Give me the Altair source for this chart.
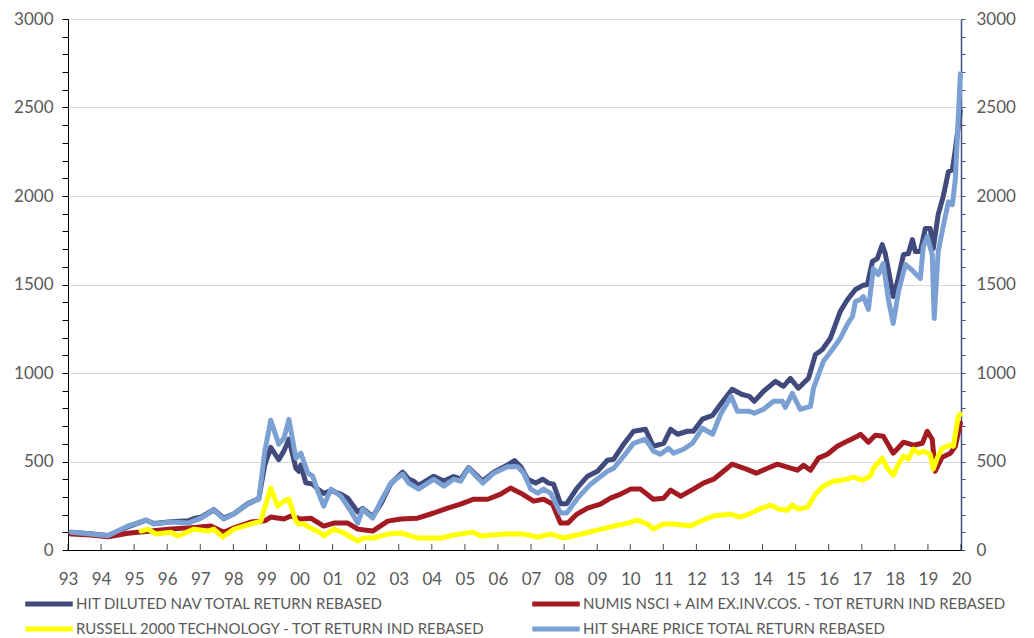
import altair as alt
import pandas as pd

NAV = "HIT DILUTED NAV TOTAL RETURN REBASED"
NUMIS = "NUMIS NSCI + AIM EX.INV.COS. - TOT RETURN IND REBASED"
RUSSELL = "RUSSELL 2000 TECHNOLOGY - TOT RETURN IND REBASED"
SP = "HIT SHARE PRICE TOTAL RETURN REBASED"

# legend order (column-major in a 2-column legend: NAV, RUSSELL | NUMIS, SP)
legend_names = [NAV, RUSSELL, NUMIS, SP]
legend_colors = ["#414A7C", "#FFFF00", "#A31A22", "#7BA0D3"]

nav_t = [1993.09, 1993.69, 1994.21, 1994.81, 1995.36, 1995.60, 1996.11, 1996.63, 1996.81, 1997.02,
         1997.41, 1997.71, 1998.02, 1998.44, 1998.77, 1998.95, 1999.13, 1999.37, 1999.53, 1999.68,
         1999.89, 1999.98, 2000.04, 2000.19, 2000.40, 2000.55, 2000.73, 2000.95, 2001.25, 2001.46,
         2001.76, 2001.91, 2002.21, 2002.46, 2002.76, 2003.12, 2003.30, 2003.45, 2003.60, 2004.06,
         2004.36, 2004.66, 2004.87, 2005.11, 2005.54, 2005.87, 2006.29, 2006.50, 2006.69, 2006.90,
         2007.14, 2007.35, 2007.53, 2007.68, 2007.89, 2008.08, 2008.39, 2008.71, 2009.01, 2009.31,
         2009.50, 2009.80, 2010.10, 2010.46, 2010.70, 2011.01, 2011.22, 2011.43, 2011.73, 2011.91,
         2012.18, 2012.49, 2012.73, 2013.08, 2013.36, 2013.60, 2013.75, 2014.03, 2014.39, 2014.63,
         2014.84, 2015.08, 2015.39, 2015.60, 2015.81, 2016.05, 2016.35, 2016.57, 2016.81, 2017.02,
         2017.17, 2017.32, 2017.47, 2017.62, 2017.71, 2017.86, 2017.95, 2018.08, 2018.26, 2018.41,
         2018.53, 2018.62, 2018.77, 2018.92, 2019.07, 2019.16, 2019.31, 2019.46, 2019.62, 2019.74,
         2019.83, 2019.98]
nav_v = [100, 92, 82, 130, 168, 150, 160, 165, 178, 185,
         228, 180, 205, 262, 290, 480, 580, 510, 560, 626,
         462, 445, 480, 380, 372, 345, 320, 335, 316, 293,
         215, 235, 190, 260, 375, 440, 400, 389, 365, 417,
         390, 415, 400, 465, 390, 440, 480, 505, 470, 400,
         378, 400, 378, 372, 262, 262, 350, 417, 445, 507,
         513, 598, 671, 682, 586, 603, 682, 654, 671, 671,
         739, 761, 823, 908, 880, 868, 840, 897, 953, 925,
         970, 914, 970, 1105, 1133, 1196, 1348, 1415, 1472, 1494,
         1500, 1630, 1646, 1725, 1675, 1528, 1432, 1517, 1669, 1675,
         1754, 1686, 1686, 1816, 1816, 1703, 1895, 1996, 2137, 2148,
         2267, 2480]

numis_t = [1993.09, 1993.69, 1994.21, 1994.81, 1995.36, 1996.11, 1996.63, 1997.32, 1997.71, 1998.02,
           1998.53, 1998.95, 1999.13, 1999.53, 1999.74, 2000.04, 2000.34, 2000.73, 2001.04, 2001.46,
           2001.76, 2002.21, 2002.67, 2003.06, 2003.57, 2004.06, 2004.48, 2004.87, 2005.27, 2005.69,
           2006.08, 2006.38, 2006.69, 2007.08, 2007.38, 2007.65, 2007.89, 2008.11, 2008.39, 2008.71,
           2009.10, 2009.40, 2009.71, 2010.01, 2010.31, 2010.70, 2011.01, 2011.22, 2011.52, 2011.91,
           2012.21, 2012.52, 2012.82, 2013.08, 2013.51, 2013.81, 2014.15, 2014.45, 2014.75, 2015.05,
           2015.24, 2015.45, 2015.69, 2015.96, 2016.26, 2016.56, 2016.87, 2016.96, 2017.20, 2017.41,
           2017.65, 2017.95, 2018.26, 2018.56, 2018.83, 2018.98, 2019.13, 2019.22, 2019.43, 2019.68,
           2019.83, 2019.98]
numis_v = [90, 85, 75, 95, 105, 118, 125, 135, 100, 125,
           158, 165, 186, 175, 192, 175, 180, 135, 152, 152,
           118, 107, 163, 175, 180, 209, 237, 259, 287, 287,
           316, 350, 321, 276, 287, 259, 152, 152, 203, 237,
           259, 293, 316, 344, 344, 287, 293, 338, 304, 344,
           378, 400, 445, 485, 457, 434, 462, 485, 468, 451,
           479, 451, 519, 541, 586, 615, 643, 654, 609, 648,
           643, 547, 609, 592, 603, 671, 626, 445, 524, 547,
           586, 716]

russell_t = [1995.21, 1995.42, 1995.66, 1996.11, 1996.32, 1996.81, 1997.23, 1997.41, 1997.68, 1998.02,
             1998.53, 1998.83, 1999.13, 1999.34, 1999.53, 1999.68, 1999.89, 1999.98, 2000.13, 2000.34,
             2000.64, 2000.73, 2001.04, 2001.34, 2001.76, 2001.94, 2002.24, 2002.67, 2003.06, 2003.57,
             2004.27, 2004.66, 2005.24, 2005.48, 2006.17, 2006.78, 2007.20, 2007.59, 2007.98, 2008.39,
             2008.89, 2009.50, 2009.92, 2010.22, 2010.52, 2010.70, 2011.01, 2011.31, 2011.82, 2012.12,
             2012.52, 2013.03, 2013.30, 2013.60, 2013.90, 2014.24, 2014.48, 2014.75, 2014.90, 2015.08,
             2015.36, 2015.60, 2015.84, 2016.14, 2016.44, 2016.75, 2017.02, 2017.26, 2017.35, 2017.62,
             2017.77, 2017.95, 2018.11, 2018.26, 2018.41, 2018.56, 2018.71, 2018.86, 2019.07, 2019.16,
             2019.28, 2019.43, 2019.68, 2019.77, 2019.92, 2019.98]
russell_v = [107, 118, 90, 100, 79, 118, 107, 118, 73, 118,
             147, 163, 350, 248, 276, 287, 163, 147, 147, 124,
             96, 79, 118, 96, 51, 68, 68, 90, 96, 68,
             68, 85, 101, 79, 90, 90, 73, 90, 68, 85,
             107, 135, 152, 169, 147, 118, 147, 147, 135, 163,
             192, 203, 186, 203, 231, 254, 231, 225, 254, 231,
             242, 316, 361, 389, 395, 412, 395, 417, 462, 519,
             462, 423, 485, 530, 513, 570, 547, 558, 541, 457,
             519, 575, 592, 586, 756, 767]

sp_t = [1993.09, 1993.69, 1994.21, 1994.81, 1995.36, 1995.60, 1996.11, 1996.63, 1997.02, 1997.41,
        1997.71, 1998.02, 1998.44, 1998.77, 1998.95, 1999.13, 1999.37, 1999.53, 1999.68, 1999.89,
        2000.04, 2000.25, 2000.40, 2000.55, 2000.73, 2000.95, 2001.25, 2001.55, 2001.76, 2001.91,
        2002.21, 2002.46, 2002.76, 2003.12, 2003.30, 2003.60, 2004.06, 2004.36, 2004.66, 2004.87,
        2005.11, 2005.54, 2005.87, 2006.29, 2006.60, 2006.78, 2006.99, 2007.20, 2007.38, 2007.59,
        2007.89, 2008.08, 2008.41, 2008.80, 2009.31, 2009.50, 2009.80, 2010.10, 2010.46, 2010.70,
        2010.91, 2011.16, 2011.31, 2011.61, 2011.88, 2012.18, 2012.49, 2012.73, 2013.05, 2013.24,
        2013.60, 2013.75, 2014.03, 2014.33, 2014.60, 2014.69, 2014.90, 2015.14, 2015.45, 2015.54,
        2015.84, 2016.11, 2016.35, 2016.56, 2016.72, 2016.81, 2016.96, 2017.05, 2017.20, 2017.35,
        2017.50, 2017.65, 2017.80, 2017.95, 2018.11, 2018.32, 2018.47, 2018.77, 2018.86, 2018.98,
        2019.13, 2019.19, 2019.31, 2019.46, 2019.62, 2019.74, 2019.83, 2019.98]
sp_v = [100, 90, 80, 135, 170, 147, 158, 152, 180, 225,
        175, 203, 260, 287, 558, 733, 598, 632, 738, 519,
        547, 434, 417, 333, 248, 344, 304, 220, 152, 231,
        180, 276, 378, 429, 378, 344, 400, 361, 400, 389,
        462, 378, 434, 470, 470, 434, 344, 321, 344, 321,
        209, 209, 293, 372, 445, 462, 530, 603, 626, 558,
        541, 575, 547, 569, 603, 688, 654, 767, 868, 784,
        784, 773, 795, 840, 840, 806, 885, 795, 812, 914,
        1066, 1133, 1196, 1274, 1320, 1404, 1415, 1432, 1359, 1590,
        1556, 1618, 1421, 1280, 1460, 1613, 1590, 1534, 1714, 1771,
        1669, 1308, 1686, 1827, 1968, 1951, 2098, 2690]

year_ticks = list(range(1993, 2021))
y_ticks = list(range(0, 3001, 100))

# data order = drawing order (NAV at the back, share price on top)
frames = []
for name, ts, vs in [(NAV, nav_t, nav_v), (NUMIS, numis_t, numis_v),
                     (RUSSELL, russell_t, russell_v), (SP, sp_t, sp_v)]:
    frames.append(pd.DataFrame({"t": ts, "v": vs, "series": name}))
df = pd.concat(frames, ignore_index=True)
ticks_df = pd.DataFrame({"t": year_ticks})

FONT = "Lato"
GRAY = "#595959"
label_expr_y = "datum.value % 500 === 0 ? toString(datum.value) : ''"

x_scale = alt.Scale(domain=[1993, 2020], nice=False, zero=False)
y_scale = alt.Scale(domain=[0, 3000], nice=False)

lines = alt.Chart(df).mark_line(strokeWidth=5, strokeJoin="round", strokeCap="round").encode(
    x=alt.X("t:Q", scale=x_scale, title=None,
            axis=alt.Axis(values=year_ticks, labelExpr="slice(toString(datum.value), 2)",
                          tickSize=0, domainColor="#000000", labelFont=FONT, labelFontSize=17,
                          labelColor=GRAY, labelPadding=21, labelFlush=False, labelOverlap=False,
                          grid=False)),
    y=alt.Y("v:Q", scale=y_scale, title=None,
            axis=alt.Axis(orient="left", values=y_ticks, labelExpr=label_expr_y,
                          tickSize=6, tickColor="#000000", domainColor="#000000",
                          labelFont=FONT, labelFontSize=17, labelColor=GRAY, labelPadding=9,
                          labelOverlap=False, grid=True, gridColor="#D9D9D9",
                          gridOpacity={"condition": {"test": "datum.value % 500 === 0", "value": 1},
                                       "value": 0})),
    color=alt.Color("series:N", scale=alt.Scale(domain=legend_names, range=legend_colors),
                    legend=alt.Legend(title=None, orient="none", legendX=-31, legendY=573,
                                      columns=2, columnPadding=35, rowPadding=3,
                                      symbolType="M-2.5,0H2.5", symbolSize=361,
                                      symbolStrokeWidth=5, labelOffset=15, labelLimit=700,
                                      labelFont=FONT, labelFontSize=15, labelColor=GRAY,
                                      padding=0)),
    detail="series:N",
)

right_axis = alt.Chart(df).transform_filter(alt.datum.series == SP).mark_line(opacity=0).encode(
    x=alt.X("t:Q", scale=x_scale, axis=None),
    y=alt.Y("v:Q", scale=y_scale, title=None,
            axis=alt.Axis(orient="right", values=y_ticks, labelExpr=label_expr_y,
                          tickSize=4, tickColor="#44507F", domainColor="#44507F", domainWidth=1.5,
                          labelFont=FONT, labelFontSize=17, labelColor=GRAY, labelPadding=11,
                          labelOverlap=False, grid=False)),
)

x_ticks = alt.Chart(ticks_df).mark_tick(orient="vertical", size=6, thickness=1,
                                         color="#000000", yOffset=-3).encode(
    x=alt.X("t:Q", scale=x_scale, axis=None),
    y=alt.Y(datum=0, scale=y_scale, axis=None),
)

chart = alt.layer(lines, right_axis, x_ticks).resolve_axis(
    x="independent", y="independent"
).properties(
    width=893, height=531,
    autosize=alt.AutoSizeParams(type="none"),
    padding={"left": 60, "top": 11, "right": 60, "bottom": 86},
).configure_view(stroke=None)

chart.save("out.html", embed_options={"renderer": "svg", "actions": False})
